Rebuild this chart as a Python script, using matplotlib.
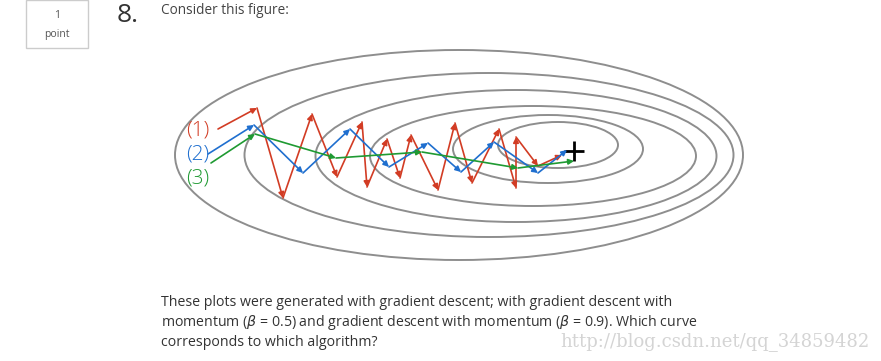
import matplotlib
matplotlib.use("Agg")
import matplotlib.pyplot as plt
from matplotlib.patches import Ellipse, Rectangle

# contour ellipses (pixel space of the original screenshot)
ell_cx = [459, 489, 516, 533, 548, 558]
ell_cy = [155, 155, 156, 156, 149, 145]
ell_w = [568, 489, 401, 326, 190, 120]
ell_h = [210, 164, 132, 100, 68, 46]

# optimisation paths
red_x = [218, 257, 283, 312, 337, 362, 367, 387, 400, 411, 438, 455, 472, 499, 516, 516, 538, 562]
red_y = [129, 108, 198, 114, 177, 122, 187, 139, 178, 135, 190, 123, 183, 129, 188, 137, 166, 155]
blue_x = [208, 254, 303, 350, 389, 428, 461, 494, 538, 567]
blue_y = [154, 125, 173, 129, 167, 143, 172, 142, 173, 150]
green_x = [211, 255, 336, 422, 518, 574]
green_y = [163, 134, 158, 152, 168, 161]

minimum = (574, 151)

labels = ["(1)", "(2)", "(3)"]
label_y = [131, 155, 178]

RED = "#d23c24"
BLUE = "#1f6fcf"
GREEN = "#1f9a32"
GRAY = "#8e8e8e"

fig = plt.figure(figsize=(8.81, 3.61), dpi=100)
ax = fig.add_axes([0, 0, 1, 1])
ax.set_xlim(0, 881)
ax.set_ylim(361, 0)
ax.axis("off")

for cx, cy, w, h in zip(ell_cx, ell_cy, ell_w, ell_h):
    ax.add_patch(Ellipse((cx, cy), w, h, fill=False, edgecolor=GRAY, linewidth=1.4))


def draw_path(xs, ys, color):
    for i in range(len(xs) - 1):
        ax.annotate("", xy=(xs[i + 1], ys[i + 1]), xytext=(xs[i], ys[i]),
                    arrowprops=dict(arrowstyle="-|>", color=color, lw=1.2,
                                    mutation_scale=8, shrinkA=0, shrinkB=0))


draw_path(red_x, red_y, RED)
draw_path(blue_x, blue_y, BLUE)
draw_path(green_x, green_y, GREEN)

ax.plot(*minimum, marker="+", color="black", markersize=14, markeredgewidth=2)

for lab, y, c in zip(labels, label_y, [RED, BLUE, GREEN]):
    ax.text(198, y, lab, color=c, fontsize=15, ha="center", va="center",
            family="Open Sans", fontweight="light")

# header
ax.add_patch(Rectangle((26, 0), 62, 48, fill=False, edgecolor="#cccccc", linewidth=1))
ax.text(57, 16, "1", fontsize=7.5, color="#555555", ha="center", va="center", family="Open Sans")
ax.text(57, 34, "point", fontsize=7.5, color="#555555", ha="center", va="center", family="Open Sans")
ax.text(117, 16, "8.", fontsize=19, color="#333333", ha="left", va="center", family="Open Sans")
ax.text(161, 10, "Consider this figure:", fontsize=9.8, color="#444444", ha="left", va="center",
        family="Open Sans")

body = ["These plots were generated with gradient descent; with gradient descent with",
        r"momentum ($\beta$ = 0.5) and gradient descent with momentum ($\beta$ = 0.9). Which curve",
        "corresponds to which algorithm?"]
for i, line in enumerate(body):
    ax.text(161, 302 + i * 20, line, fontsize=10.15, color="#333333", ha="left", va="center",
            family="Open Sans")

ax.text(870, 342, "http://blog.csdn.net/qq_34859482", fontsize=13, color="#d4d4d4",
        ha="right", va="center", family="DejaVu Serif")

fig.savefig("out.png", dpi=100)
